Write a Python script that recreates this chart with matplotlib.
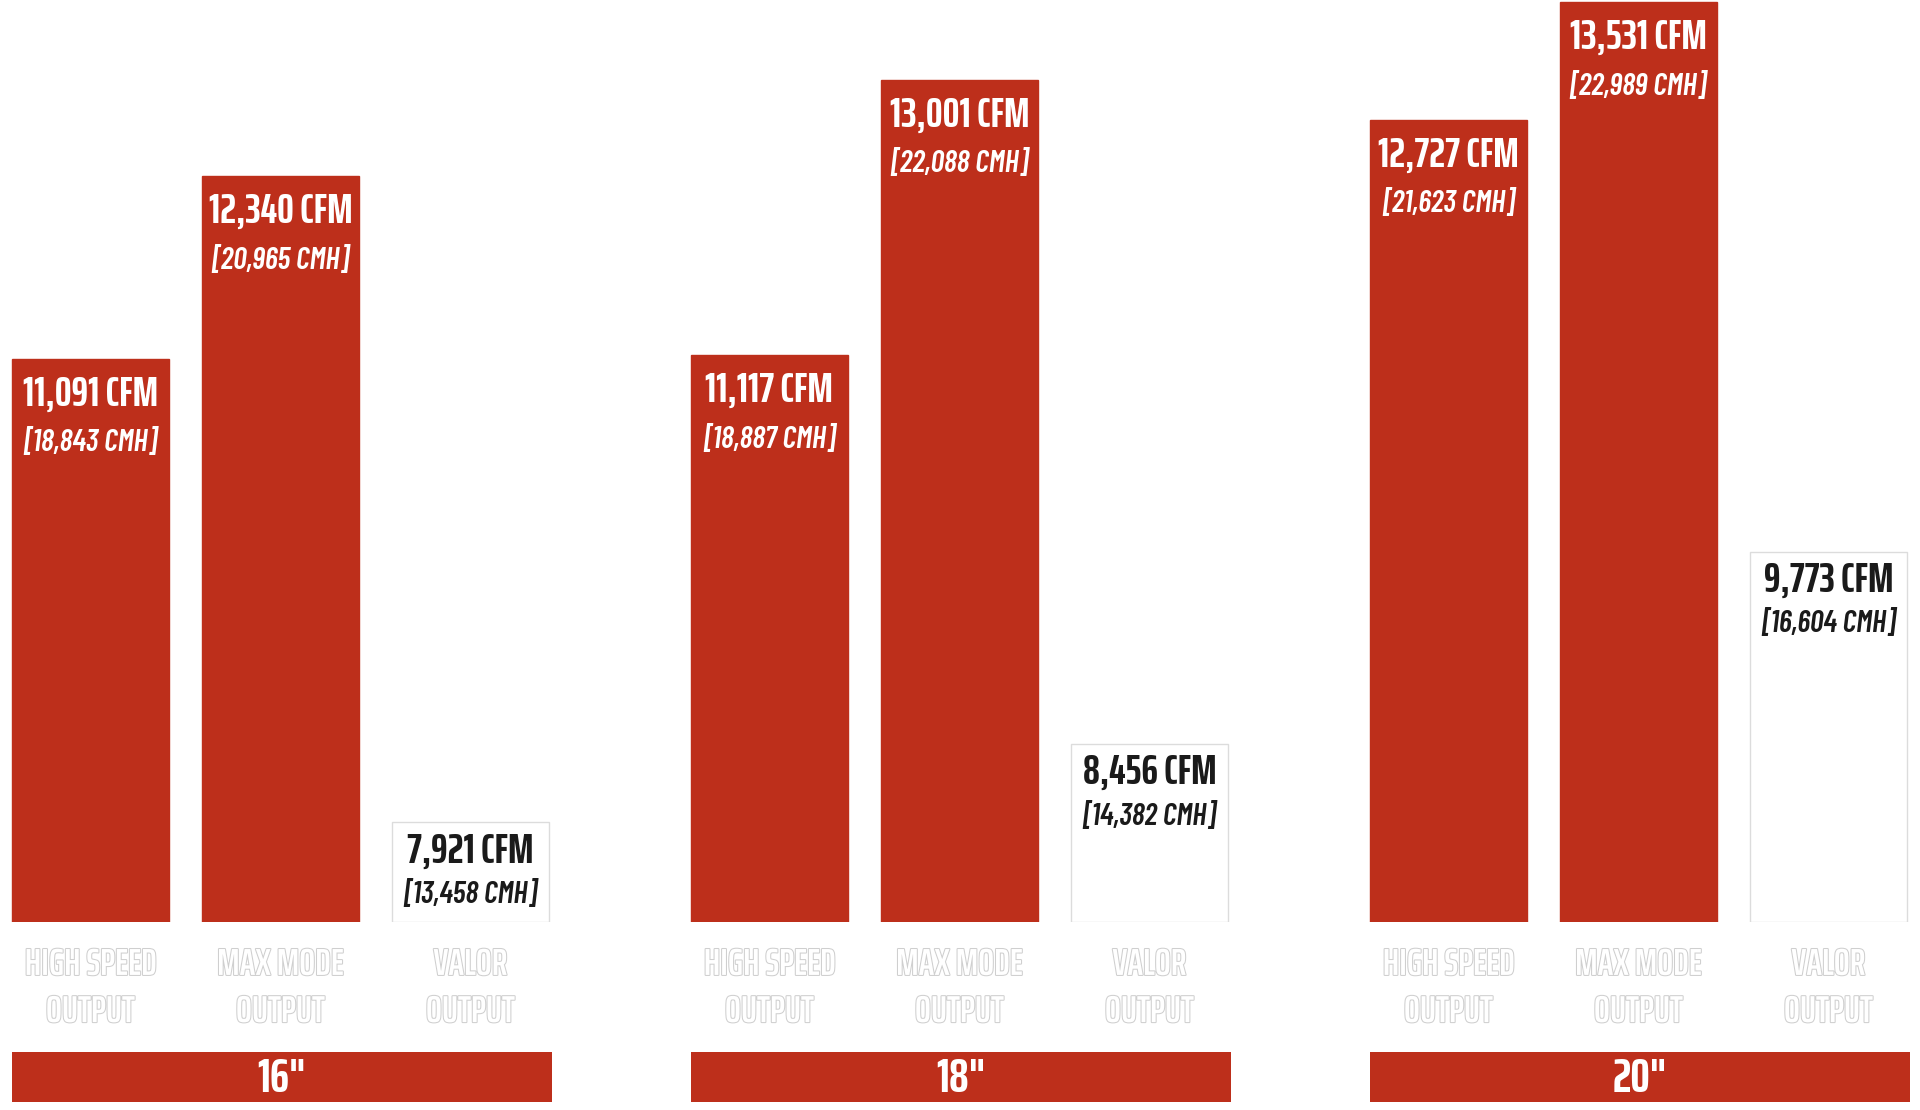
import matplotlib.pyplot as plt
import matplotlib.patheffects as pe
import matplotlib.transforms as mtransforms
from matplotlib.patches import Rectangle

# data
sizes = ['16"', '18"', '20"']
modes = ['HIGH SPEED\nOUTPUT', 'MAX MODE\nOUTPUT', 'VALOR\nOUTPUT']
cfm = [[11091, 12340, 7921],
       [11117, 13001, 8456],
       [12727, 13531, 9773]]
cmh = [[18843, 20965, 13458],
       [18887, 22088, 14382],
       [21623, 22989, 16604]]

RED = '#bd2f1b'
FONT = ['Saira ExtraCondensed', 'DejaVu Sans']
FONT_IT = ['Barlow Condensed', 'DejaVu Sans']
base = 7240  # value at the baseline of the bars

fig = plt.figure(figsize=(19.2, 11.1), dpi=100)
ax = fig.add_axes([0, 188 / 1110, 1, 922 / 1110])
ax.set_xlim(0, 1920 / 190)
ax.set_ylim(base, 13545)
ax.axis('off')

bar_w = 157 / 190
group_step = 679 / 190
trans = mtransforms.blended_transform_factory(ax.transData, fig.transFigure)
px = 0.72  # points per pixel at dpi 100

cfm_txt, cmh_txt, mode_txt, size_txt = [], [], [], []
for g in range(3):
    xs = [g * group_step + i + 0.476 for i in range(3)]
    colors = [RED, RED, 'white']
    edges = [RED, RED, '#dcdcdc']
    ax.bar(xs, [v - base for v in cfm[g]], bottom=base, width=bar_w,
           color=colors, edgecolor=edges, linewidth=1)
    for i in range(3):
        tc = 'white' if i < 2 else '#1a1a1a'
        off1, off2 = (35, 84) if i < 2 else (28, 72)
        cfm_txt.append(ax.annotate(f'{cfm[g][i]:,} CFM', xy=(xs[i], cfm[g][i]),
                                   xytext=(0, -off1 * px), textcoords='offset points',
                                   ha='center', va='center', fontsize=30, fontweight='bold',
                                   family=FONT, color=tc))
        cmh_txt.append(ax.annotate(f'[{cmh[g][i]:,} CMH]', xy=(xs[i], cfm[g][i]),
                                   xytext=(0, -off2 * px), textcoords='offset points',
                                   ha='center', va='center', fontsize=26, fontweight='semibold',
                                   style='italic', family=FONT_IT, color=tc))
        mode_txt.append(ax.annotate(modes[i], xy=(xs[i], base), xytext=(0, -66 * px),
                                    textcoords='offset points', ha='center', va='center',
                                    fontsize=30, fontweight='semibold', family=FONT,
                                    color='white', linespacing=1.35, annotation_clip=False,
                                    path_effects=[pe.withStroke(linewidth=1.5,
                                                                foreground='#cfcfcf')]))

    left = xs[0] - bar_w / 2
    right = xs[2] + bar_w / 2 + 3 / 190
    band = Rectangle((left, 8 / 1110), right - left, 50 / 1110, transform=trans,
                     facecolor=RED, edgecolor='none', clip_on=False)
    ax.add_patch(band)
    size_txt.append(ax.text((left + right) / 2, 31 / 1110, sizes[g], transform=trans,
                            ha='center', va='center', fontsize=35, fontweight='bold',
                            family=FONT, color='white'))

# scale each kind of label so its width matches the reference
fig.canvas.draw()
r = fig.canvas.get_renderer()
for texts, target in [(cfm_txt, 144), (cmh_txt, 138), (mode_txt, 132)]:
    t0 = texts[1] if texts is not mode_txt else texts[0]
    k = target / t0.get_window_extent(r).width
    for t in texts:
        t.set_fontsize(t.get_fontsize() * k)

plt.savefig('out.png', dpi=100, facecolor='white')
